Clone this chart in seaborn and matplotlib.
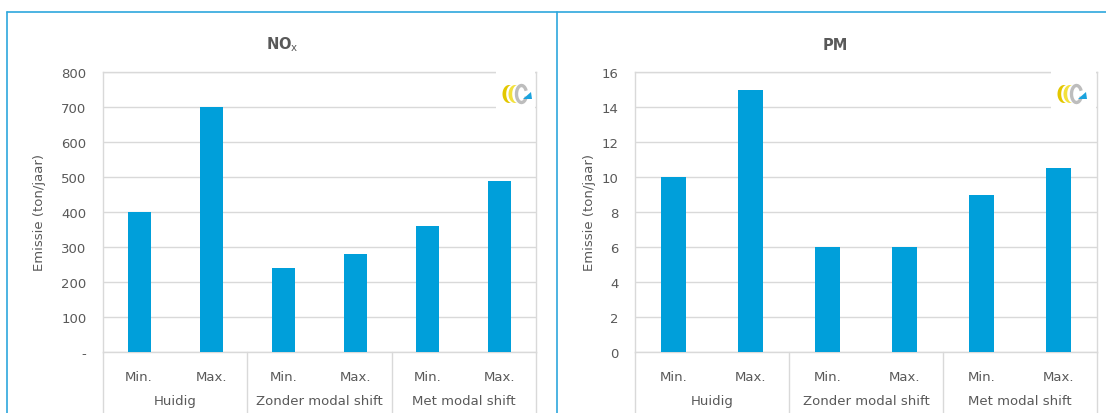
import matplotlib
matplotlib.use("Agg")
import matplotlib.pyplot as plt
from matplotlib.patches import Arc, Polygon
from matplotlib.lines import Line2D
from matplotlib.ticker import FuncFormatter, MultipleLocator
import numpy as np
import seaborn as sns
import pandas as pd

# Scenario groups and the min/max estimate within each group
groups = ["Huidig", "Zonder modal shift", "Met modal shift"]
levels = ["Min.", "Max."]

# Emissions in ton/jaar, ordered group by group (Min., Max.)
nox_values = [400, 700, 240, 280, 360, 490]
pm_values = [10, 15, 6, 6, 9, 10.5]

BAR = "#009FDA"
TEXT = "#595959"
GRID = "#D9D9D9"
FRAME = "#2EA7DD"

sns.set_theme(style="white")
plt.rcParams["font.family"] = ["DejaVu Sans"]

keys = [f"{g}|{l}" for g in groups for l in levels]


def make_frame(values):
    return pd.DataFrame({"key": keys, "value": values})


def crescent(cx, cy, rx, ry, inner_rx, shift):
    t_out = np.linspace(np.pi / 2, 3 * np.pi / 2, 40)
    t_in = t_out[::-1]
    outer = np.column_stack([cx + rx * np.cos(t_out), cy + ry * np.sin(t_out)])
    inner = np.column_stack([cx + shift + inner_rx * np.cos(t_in),
                             cy + ry * 0.97 * np.sin(t_in)])
    return np.vstack([outer, inner])


def add_logo(fig, left_px, top_px, w_px, h_px, W, H):
    # white badge with the company mark, drawn in pixel units of the badge
    lax = fig.add_axes([left_px / W, 1 - (top_px + h_px) / H, w_px / W, h_px / H])
    lax.set_xlim(0, w_px)
    lax.set_ylim(0, h_px)
    lax.set_facecolor("white")
    for s in lax.spines.values():
        s.set_visible(False)
    lax.set_xticks([])
    lax.set_yticks([])
    ox = 6
    cy = h_px - 23
    lax.add_patch(Polygon(crescent(ox + 7, cy, 6.5, 9, 5.0, 2.2),
                          closed=True, color="#E3C700", lw=0))
    lax.add_patch(Polygon(crescent(ox + 13, cy, 6.5, 9, 5.0, 2.2),
                          closed=True, color="#F3E13C", lw=0))
    lax.add_patch(Arc((ox + 19.5, cy), 10, 17, theta1=35, theta2=330,
                      color="#BDBDBD", lw=2.4))
    lax.add_patch(Polygon([[ox + 21, cy - 5], [ox + 30, cy - 5], [ox + 29, cy + 2]],
                          closed=True, color="#1BA3DE", lw=0))


def draw_panel(fig, ax, values, ymax, step, zero_dash, title, title_x, ylabel_x):
    df = make_frame(values)
    sns.barplot(data=df, x="key", y="value", order=keys, color=BAR,
                width=0.32, saturation=1, ax=ax, errorbar=None, zorder=3,
                linewidth=0)
    ax.set_xlim(-0.5, len(keys) - 0.5)
    ax.set_ylim(0, ymax)
    ax.yaxis.set_major_locator(MultipleLocator(step))
    if zero_dash:
        ax.yaxis.set_major_formatter(
            FuncFormatter(lambda v, p: "-" if abs(v) < 1e-9 else f"{v:.0f}"))
    else:
        ax.yaxis.set_major_formatter(FuncFormatter(lambda v, p: f"{v:.0f}"))
    ax.grid(axis="y", color=GRID, lw=1, zorder=0)
    ax.set_axisbelow(True)
    ax.set_xlabel("")
    ax.set_ylabel("")
    ax.set_xticks(range(len(keys)))
    ax.set_xticklabels([k.split("|")[1] for k in keys])
    ax.tick_params(axis="x", length=0, pad=13, labelsize=9.5, labelcolor=TEXT)
    ax.tick_params(axis="y", length=0, pad=12, labelsize=9.5, labelcolor=TEXT)
    for s in ax.spines.values():
        s.set_color(GRID)
        s.set_linewidth(1)

    tr = ax.get_xaxis_transform()
    # group separators below the category axis
    for xb in [-0.5, 1.5, 3.5, 5.5]:
        ax.add_line(Line2D([xb, xb], [0, -0.3], transform=tr, color=GRID,
                           lw=1, clip_on=False))
    for i, g in enumerate(groups):
        ax.text(2 * i + 0.5, -0.175, g, transform=tr, ha="center",
                va="center", fontsize=9.5, color=TEXT)

    fig.text(title_x, 1 - 45 / 414, title, ha="center", va="center",
             fontsize=10.5, fontweight="bold", color=TEXT)
    fig.text(ylabel_x, 1 - 213 / 414, "Emissie (ton/jaar)", rotation=90,
             ha="center", va="center", fontsize=9.5, color=TEXT)


fig = plt.figure(figsize=(11.06, 4.14), dpi=100)
W, H = 1106, 414

ax1 = fig.add_axes([103 / W, 1 - 353 / H, 433 / W, 280 / H])
ax2 = fig.add_axes([635 / W, 1 - 353 / H, 462 / W, 280 / H])

draw_panel(fig, ax1, nox_values, 800, 100, True,
           r"$\mathbf{NO}_\mathrm{x}$", 282 / W, 40 / W)
draw_panel(fig, ax2, pm_values, 16, 2, False, "PM", 835 / W, 590 / W)

add_logo(fig, 496, 72, 39, 40, W, H)
add_logo(fig, 1051, 72, 45, 40, W, H)

# chart-area borders around both panels
for xs, ys in [([7, 7], [13, 420]), ([557, 557], [13, 420]), ([7, 1106], [13, 13])]:
    fig.add_artist(Line2D([x / W for x in xs], [1 - y / H for y in ys],
                          transform=fig.transFigure, color=FRAME, lw=1.2))

fig.savefig("out.png", dpi=100, facecolor="white")
